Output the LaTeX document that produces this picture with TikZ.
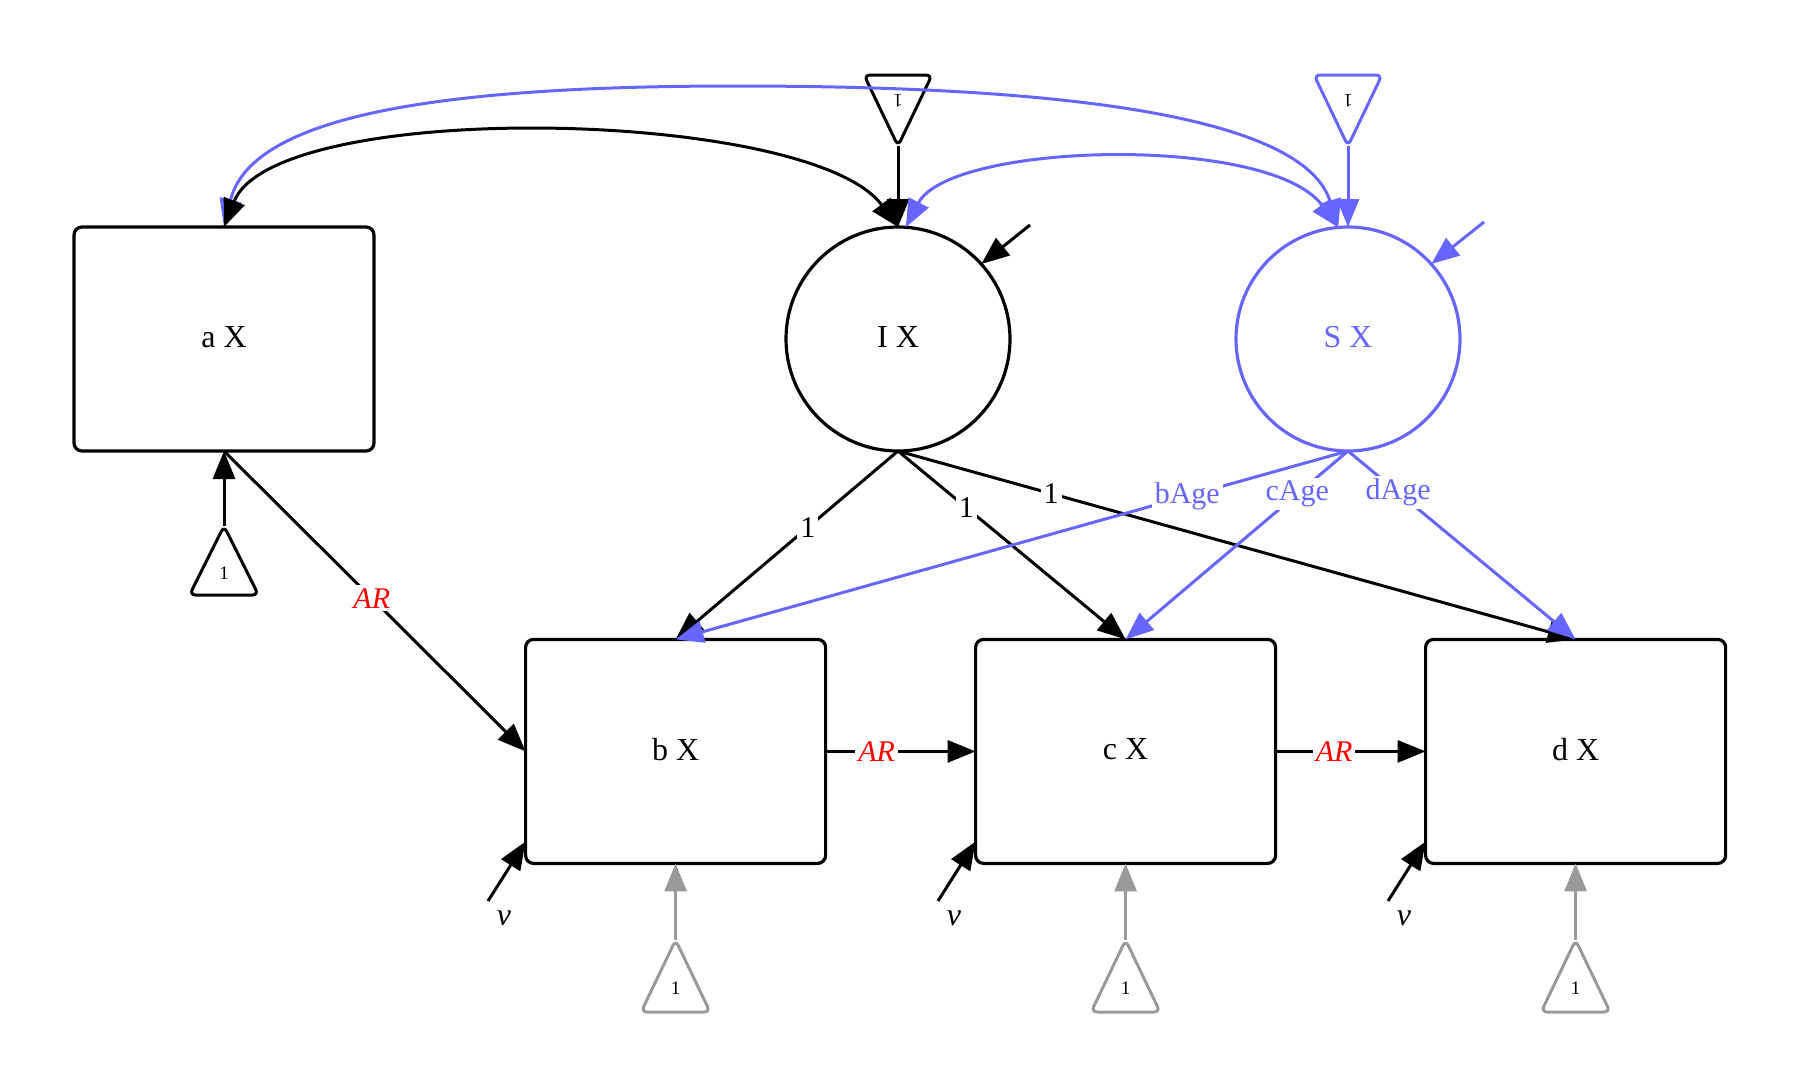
\documentclass[tikz,border=0pt]{standalone}
\usepackage{fontspec}
\setmainfont{Liberation Serif}
\usetikzlibrary{arrows.meta,calc}
\definecolor{slopeblue}{RGB}{102,102,255}
\definecolor{meangray}{RGB}{153,153,153}
\newcommand{\lifted}[1]{\raisebox{2.3pt}{#1}}
\begin{document}
\begin{tikzpicture}[x=0.5pt,y=-0.5pt,
  head/.tip={Triangle[length=14pt,width=11pt]},
  tip/.style={-head},
  twoway/.style={head-head},
  conn/.style={line width=1.5pt},
  manifest/.style={draw, line width=1.6pt, rounded corners=4pt,
    minimum width=150pt, minimum height=112pt, inner sep=0pt, outer sep=0pt,
    font=\fontsize{16}{19}\selectfont},
  latent/.style={draw, circle, line width=1.6pt, minimum size=112pt,
    inner sep=0pt, outer sep=0pt, font=\fontsize{16}{19}\selectfont},
  lbl/.style={fill=white, inner sep=1.5pt, font=\fontsize{15}{18}\selectfont},
  arlbl/.style={lbl, text=red, font=\fontsize{15}{18}\selectfont\itshape},
  tri/.style={line width=1.5pt, rounded corners=3pt},
  trinum/.style={inner sep=0pt, font=\fontsize{9.5}{10}\selectfont},
]
\useasboundingbox (0,0) rectangle (1800,1088);

% observed and latent variables
\node[manifest] (aX) at (224,339) {\lifted{a X}};
\node[manifest] (bX) at (675.6,751.4) {\lifted{b X}};
\node[manifest] (cX) at (1125.6,751.4) {\lifted{c X}};
\node[manifest] (dX) at (1575.6,751.4) {\lifted{d X}};
\node[latent] (I) at (898,339) {\lifted{I X}};
\node[latent, draw=slopeblue, text=slopeblue] (S) at (1348,339) {\lifted{S X}};

% constant triangles for the intercepts and slope means
\coordinate (ti) at (898,146);
\coordinate (ts) at (1348,146);
\draw[tri] (ti) -- ++(-34,-71) -- ++(68,0) -- cycle;
\node[trinum, rotate=180] (tit) at (898,101) {1};
\draw[tri, slopeblue] (ts) -- ++(-34,-71) -- ++(68,0) -- cycle;
\node[trinum, rotate=180] (tst) at (1348,101) {1};

\coordinate (ma) at (224,526);
\draw[tri] (ma) -- ++(34.5,69) -- ++(-69,0) -- cycle;
\node[trinum] (mat) at (224,573) {1};
\foreach \n/\xx in {b/675.6, c/1125.6, d/1575.6} {
  \coordinate (m\n) at (\xx,940);
  \draw[tri, meangray] (m\n) -- ++(34.5,72) -- ++(-69,0) -- cycle;
  \node[trinum] (m\n t) at (\xx,988) {1};
}

% means
\draw[conn, tip] (ma) -- (aX.south);
\foreach \n in {b,c,d} \draw[conn, tip, meangray] (m\n) -- (\n X.south);

% covariances across the top
\draw[conn, twoway, slopeblue] (aX.north) .. controls (250,120) and (420,86) .. (735,86)
  .. controls (1000,86) and (1300,105) .. (S.95);
\draw[conn, twoway] (aX.north) .. controls (275,98) and (810,108) .. (I.north);
\draw[conn, tip] (ti) -- (I.north);
\draw[conn, tip, slopeblue] (ts) -- (S.north);
\draw[conn, twoway, slopeblue] (I.86) .. controls (950,142) and (1270,134) .. (S.95);

% latent residuals
\coordinate (ri) at (1030,225);
\coordinate (rs) at (1484,222);
\draw[conn, tip] (ri) -- (I.42);
\draw[conn, tip, slopeblue] (rs) -- (S.42);

% intercept loadings
\draw[conn, tip] (I.south) -- node[lbl, pos=0.405] (l1) {1} (bX.north);
\draw[conn, tip] (I.south) -- node[lbl, pos=0.30] (l2) {1} (cX.north);
\draw[conn, tip] (I.south) -- node[lbl, pos=0.226] (l3) {1} (dX.north);

% slope loadings
\draw[conn, tip, slopeblue] (S.south) -- node[lbl, text=slopeblue, pos=0.239] (lb) {bAge} (bX.north);
\draw[conn, tip, slopeblue] (S.south) -- node[lbl, text=slopeblue, pos=0.228] (lc) {cAge} (cX.north);
\draw[conn, tip, slopeblue] (S.south) -- node[lbl, text=slopeblue, pos=0.22] (ld) {dAge} (dX.north);

% autoregressive paths
\draw[conn, tip] (aX.south) -- node[arlbl, pos=0.49] (ar1) {AR} (bX.west);
\draw[conn, tip] (bX.east) -- node[arlbl, pos=0.34] (ar2) {AR} (cX.west);
\draw[conn, tip] (cX.east) -- node[arlbl, pos=0.39] (ar3) {AR} (dX.west);

% residual variances of the observed variables
\foreach \n/\xx in {b/0, c/450, d/900} {
  \coordinate (v\n) at (488+\xx,901);
  \draw[conn, tip] (v\n) -- (\n X.211.7);
  \node[font=\fontsize{16}{19}\selectfont\itshape, inner sep=0pt] (v\n l) at (504+\xx,918) {v};
}
\end{tikzpicture}
\end{document}
